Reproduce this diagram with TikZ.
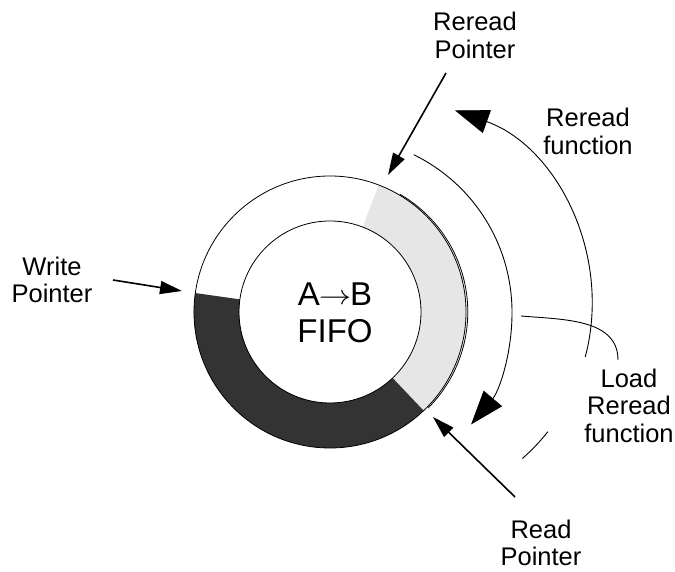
\documentclass[tikz,border=0pt]{standalone}
\usepackage{fontspec}
\setmainfont{Liberation Sans}
\usetikzlibrary{arrows.meta, calc}
\definecolor{lightsect}{HTML}{E6E6E6}
\definecolor{darksect}{HTML}{333333}

\begin{document}
\begin{tikzpicture}[x=1pt,y=1pt]
\tikzstyle{txt}=[font=\fontsize{25.5}{27.5}\selectfont, align=center, inner sep=0pt]
\tikzstyle{big}=[font=\fontsize{33}{37}\selectfont, align=center, inner sep=0pt]
\tikzstyle{ring}=[line width=0.8pt]
\tikzstyle{pointer}=[line width=1.6pt, -{Triangle[length=22pt,width=13pt]}]
\tikzstyle{func}=[line width=0.9pt, -{Triangle[length=34pt,width=24pt]}]
\useasboundingbox (0,0) rectangle (675,572);
\coordinate (C) at (330,260);
\fill[lightsect] ($(C)+(-46.5:136)$) arc[start angle=-46.5, end angle=69, radius=136] -- ($(C)+(69:91)$) arc[start angle=69, end angle=-46.5, radius=91] -- cycle;
\fill[darksect] ($(C)+(172:136)$) arc[start angle=172, end angle=313.5, radius=136] -- ($(C)+(313.5:91)$) arc[start angle=313.5, end angle=172, radius=91] -- cycle;
\draw[ring] (C) circle[radius=136];
\draw[ring] (C) circle[radius=91];
\draw[ring] ($(C)+(1.8,0)+(-45:136)$) arc[start angle=-45, end angle=60, radius=136];
\node[big] (fifo) at (335,259.4) {A\kern-1pt\raisebox{1pt}{\scalebox{1.3}[1.1]{$\rightarrow$}}\kern-1pt B\\FIFO};
\node[txt] (rrp) at (475,536.5) {Reread\\Pointer};
\node[txt] (rrf) at (588,440.5) {Reread\\function};
\node[txt] (wp) at (52,292) {Write\\Pointer};
\node[txt] (lrf) at (629,166.5) {Load\\Reread\\function};
\node[txt] (rp) at (541,29) {Read\\Pointer};
\coordinate (rrp-s) at (446,499);
\coordinate (rrp-t) at (388,397);
\coordinate (wp-s) at (113,292);
\coordinate (wp-t) at (182,281);
\coordinate (rp-s) at (515,75);
\coordinate (rp-t) at (433,155);
\draw[pointer] (rrp-s) -- (rrp-t);
\draw[pointer] (wp-s) -- (wp-t);
\draw[pointer] (rp-s) -- (rp-t);
\coordinate (f1) at ($(337,260)+(64:175)$);
\coordinate (f2) at ($(388,267)+(-14.8:204)$);
\coordinate (f3) at ($(388,267)+(-38.4:204)$);
\draw[func] (f1) arc[start angle=64, end angle=-40, radius=175];
\draw[func] (f2) arc[start angle=-14.8, end angle=70.5, radius=206];
\draw[line width=0.9pt] (f3) arc[start angle=-38.4, end angle=-48.8, radius=204];
\coordinate (ld-s) at (521,256);
\coordinate (ld-t) at (618,212);
\draw[line width=0.9pt] (ld-s) to[out=-5, in=90] (ld-t);
\end{tikzpicture}
\end{document}
